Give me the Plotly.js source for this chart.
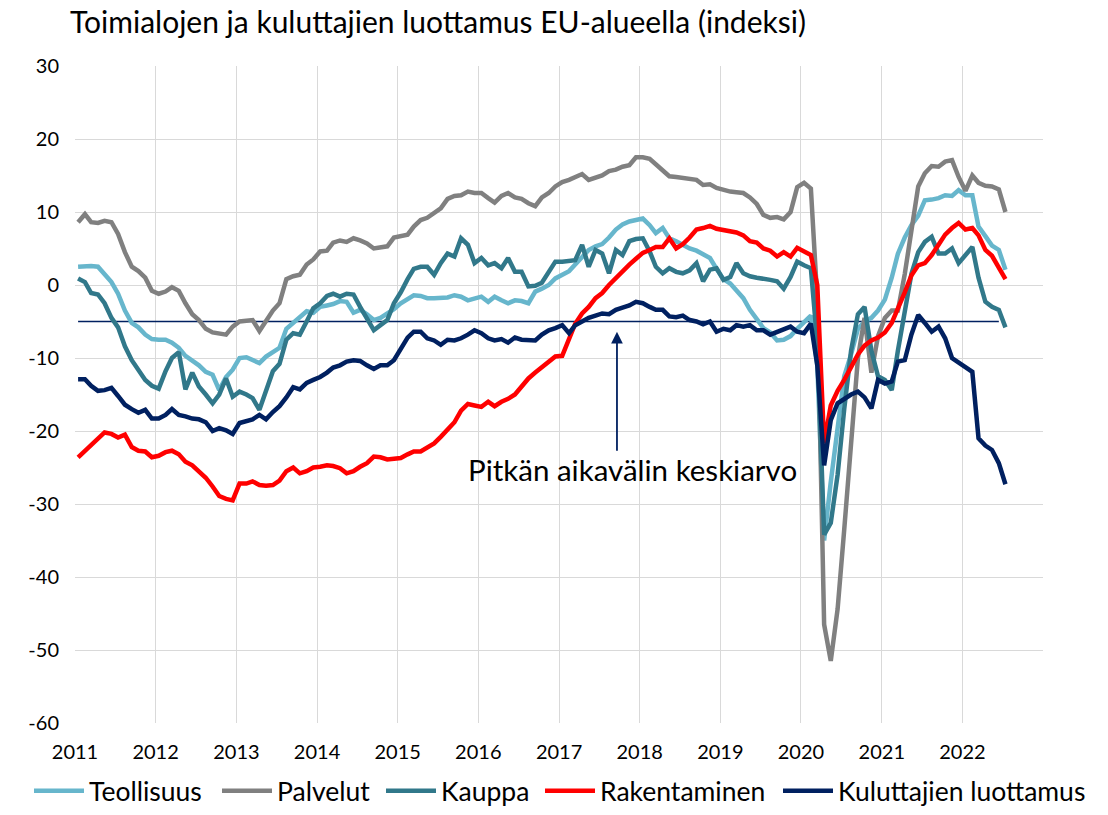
<!DOCTYPE html>
<html>
<head>
<meta charset="utf-8">
<script src="https://cdn.plot.ly/plotly-3.0.1.min.js"></script>
<style>html,body{margin:0;padding:0;background:#fff;}#chart{width:1108px;height:815px;}</style>
</head>
<body>
<div id="chart"></div>
<script>
// ---- Data (monthly, Jan 2011 – Jul 2022) ----
const startYear = 2011;
const nMonths = 139;

const teollisuus = [
  2.5, 2.6, 2.6, 2.5, 1.5, 0.4, -1.2, -3.5, -5.2, -5.8, -6.8, -7.4,
  -7.5, -7.5, -7.9, -8.6, -9.7, -10.3, -11.0, -11.9, -12.3, -14.4, -12.6, -11.6,
  -10.0, -9.9, -10.3, -10.7, -9.8, -9.2, -8.6, -6.0, -5.2, -4.4, -3.6, -3.8,
  -3.0, -2.8, -2.6, -2.2, -2.3, -3.8, -3.4, -4.0, -4.8, -4.5, -3.9, -3.3,
  -2.5, -2.0, -1.4, -1.5, -1.8, -1.8, -1.8, -1.7, -1.4, -1.6, -2.1, -1.8,
  -1.6, -2.3, -1.6, -2.1, -2.5, -2.1, -2.2, -2.5, -0.9, -0.5, 0.0, 0.9,
  1.4, 1.9, 2.8, 3.9, 4.8, 5.3, 5.6, 6.5, 7.6, 8.3, 8.7, 8.9,
  9.1, 8.2, 7.1, 7.8, 6.4, 6.0, 5.5, 5.0, 4.7, 4.2, 3.7, 2.2,
  0.8, 0.2, -0.8, -1.8, -3.4, -4.7, -5.9, -6.5, -7.6, -7.5, -7.0, -6.0,
  -5.0, -4.2, -11.0, -35.0, -27.0, -20.0, -12.5, -9.5, -6.0, -5.0, -4.5, -3.5,
  -2.0, 1.0, 4.3, 6.5, 8.2, 9.5, 11.6, 11.7, 11.9, 12.3, 12.2, 13.0,
  12.3, 12.3, 8.0, 6.7, 5.4, 4.8, 2.1
];

const palvelut = [
  8.6, 9.7, 8.6, 8.5, 8.8, 8.6, 7.0, 4.5, 2.5, 1.9, 1.0, -0.8,
  -1.2, -0.9, -0.3, -0.8, -2.5, -4.0, -4.8, -6.0, -6.5, -6.6, -6.8, -5.7,
  -5.0, -4.9, -4.8, -6.3, -4.8, -3.5, -2.5, 0.8, 1.2, 1.4, 2.8, 3.5,
  4.6, 4.7, 5.8, 6.1, 5.9, 6.4, 6.1, 5.7, 5.0, 5.1, 5.3, 6.5,
  6.7, 6.9, 8.0, 8.9, 9.2, 9.8, 10.5, 11.8, 12.2, 12.3, 12.8, 12.6,
  12.6, 11.9, 11.3, 12.2, 12.6, 12.0, 11.8, 11.2, 10.8, 12.0, 12.6, 13.5,
  14.1, 14.4, 14.8, 15.2, 14.4, 14.7, 15.0, 15.6, 15.8, 16.2, 16.4, 17.5,
  17.5, 17.3, 16.5, 15.8, 14.9, 14.8, 14.7, 14.6, 14.4, 13.7, 13.8, 13.3,
  13.0, 12.8, 12.7, 12.6, 12.0, 11.1, 9.6, 9.2, 9.3, 9.0, 10.0, 13.4,
  14.0, 13.2, -2.0, -46.5, -51.5, -44.4, -33.5, -21.5, -10.0, -4.5, -12.0, -7.0,
  -4.5, -3.5, -3.5, 1.5, 7.5, 13.5, 15.3, 16.3, 16.2, 16.9, 17.1, 14.8,
  12.9, 15.0, 14.0, 13.6, 13.5, 13.1, 10.0
];

const kauppa = [
  0.9, 0.4, -1.1, -1.3, -2.5, -4.5, -5.8, -8.4, -10.3, -11.6, -13.0, -13.8,
  -14.2, -11.8, -10.0, -9.2, -14.3, -12.0, -13.9, -15.0, -16.2, -15.0, -12.8, -15.3,
  -14.6, -15.0, -15.5, -17.1, -14.4, -11.8, -10.8, -7.5, -6.6, -6.8, -5.0, -3.2,
  -2.5, -1.5, -1.2, -1.6, -1.2, -1.3, -3.0, -4.5, -6.2, -5.5, -4.8, -2.5,
  -1.0, 0.8, 2.2, 2.5, 2.5, 1.4, 3.0, 4.3, 3.9, 6.4, 5.5, 3.0,
  3.7, 2.7, 3.0, 2.3, 3.7, 1.8, 1.8, -0.2, -0.1, 0.3, 1.8, 3.2,
  3.2, 3.3, 3.4, 5.5, 2.5, 4.8, 4.3, 1.6, 4.8, 4.1, 6.0, 6.3,
  6.4, 4.6, 2.5, 1.6, 2.3, 1.8, 1.6, 2.0, 3.0, 0.5, 2.1, 2.3,
  0.7, 1.1, 3.0, 1.6, 1.2, 1.0, 0.9, 0.7, 0.5, -0.5, 1.1, 3.2,
  2.7, 2.3, -8.0, -34.2, -32.6, -26.0, -17.0, -9.0, -4.0, -3.0, -9.0, -12.5,
  -13.0, -14.4, -9.0, -4.0, 1.5, 4.5, 5.9, 6.6, 4.3, 4.3, 5.0, 3.0,
  4.1, 5.2, 1.0, -2.3, -3.0, -3.4, -5.8
];

const rakentaminen = [
  -23.6, -22.7, -22.1, -21.2, -20.2, -20.4, -20.9, -20.5, -22.2, -22.7, -22.8, -23.6,
  -23.4, -22.9, -22.7, -23.2, -24.2, -24.7, -25.5, -26.4, -27.6, -28.9, -29.3, -29.5,
  -27.2, -27.2, -26.9, -27.4, -27.5, -27.4, -26.8, -25.5, -25.0, -25.8, -25.5, -25.0,
  -24.9, -24.7, -24.8, -25.1, -25.8, -25.5, -24.9, -24.4, -23.5, -23.6, -23.9, -23.8,
  -23.7, -23.2, -22.8, -22.8, -22.3, -21.7, -20.8, -19.8, -18.8, -17.2, -16.3, -16.5,
  -16.7, -16.0, -16.6, -16.0, -15.6, -15.0, -13.8, -12.8, -12.0, -11.3, -10.6, -9.8,
  -9.7, -7.5, -5.3, -3.9, -3.0, -1.8, -1.1, 0.0, 1.0, 2.0, 2.8, 3.6,
  4.4, 4.8, 5.2, 5.2, 6.4, 5.0, 5.6, 6.5, 7.6, 7.8, 8.1, 7.7,
  7.5, 7.4, 7.2, 6.8, 6.0, 5.8, 5.0, 4.7, 3.9, 4.5, 3.9, 5.1,
  4.6, 4.1, 0.0, -21.7, -16.5, -14.5, -13.0, -11.2, -9.5, -8.3, -7.6, -7.2,
  -6.5, -5.2, -3.3, -1.0, 1.3, 2.7, 3.0, 4.1, 5.5, 6.9, 7.8, 8.5,
  7.6, 7.8, 6.8, 4.8, 4.0, 2.4, 0.8
];

const kuluttajat = [
  -12.9, -12.9, -13.8, -14.5, -14.4, -14.1, -15.2, -16.4, -17.0, -17.5, -17.1, -18.3,
  -18.3, -17.8, -17.0, -17.8, -18.0, -18.3, -18.4, -18.8, -20.0, -19.6, -19.9, -20.4,
  -18.9, -18.7, -18.4, -17.8, -18.4, -17.4, -16.6, -15.4, -14.0, -14.3, -13.4, -13.0,
  -12.6, -12.0, -11.3, -11.0, -10.5, -10.3, -10.4, -11.0, -11.5, -11.0, -11.0, -10.3,
  -8.6, -7.2, -6.4, -6.4, -7.3, -7.6, -8.2, -7.5, -7.6, -7.3, -6.8, -6.2,
  -6.6, -7.3, -7.6, -7.4, -7.9, -7.2, -7.5, -7.6, -7.6, -6.8, -6.2, -5.9,
  -5.5, -6.6, -5.5, -5.0, -4.5, -4.2, -3.9, -4.0, -3.4, -3.1, -2.8, -2.3,
  -2.5, -3.0, -3.4, -3.4, -4.3, -4.4, -4.2, -4.8, -5.0, -5.4, -5.0, -6.4,
  -6.0, -6.2, -5.5, -5.7, -5.5, -6.2, -6.2, -6.8, -6.4, -6.0, -5.7, -6.4,
  -6.6, -5.3, -11.0, -24.7, -18.5, -16.2, -15.6, -15.0, -14.6, -15.4, -16.9, -13.0,
  -13.5, -13.2, -10.5, -10.3, -6.8, -4.1, -5.2, -6.4, -5.7, -7.3, -10.0, -10.6,
  -11.3, -11.9, -21.0, -22.0, -22.6, -24.4, -27.3
];

const longTermAverage = -5;

const seriesNames = ['Teollisuus', 'Palvelut', 'Kauppa', 'Rakentaminen', 'Kuluttajien luottamus'];
const seriesColors = ['#67b6cc', '#808080', '#31788a', '#ff0000', '#002060'];
const seriesValues = [teollisuus, palvelut, kauppa, rakentaminen, kuluttajat];

const yearLabels = ['2011','2012','2013','2014','2015','2016','2017','2018','2019','2020','2021','2022',''];
const yTickValues = [30, 20, 10, 0, -10, -20, -30, -40, -50, -60];
const yTickLabels = ['30','20','10','0','-10','-20','-30','-40','-50','-60'];

const annotationText = 'Pitkän aikavälin keskiarvo';
const titleText = 'Toimialojen ja kuluttajien luottamus EU-alueella (indeksi)';

// month positions (mid-month)
const months = [];
for (let i = 0; i < nMonths; i++) {
  const y = startYear + Math.floor(i / 12);
  const m = (i % 12) + 1;
  months.push(y + '-' + String(m).padStart(2, '0') + '-15');
}
const yearTickVals = yearLabels.map((_, k) => (startYear + k) + '-01-01');

// one legend per series so each entry sits where the reference has it
const legendIds = ['legend', 'legend2', 'legend3', 'legend4', 'legend5'];
const legendLeftPx = [29, 217, 381, 540, 778];

const traces = [];
// long-term average line (drawn first, under the series)
traces.push({
  type: 'scatter', mode: 'lines', name: annotationText, showlegend: false,
  x: [months[0], months[nMonths - 2]], y: [longTermAverage, longTermAverage],
  line: { color: '#002060', width: 1.5 }, hoverinfo: 'skip'
});
seriesNames.forEach((name, k) => {
  traces.push({
    type: 'scatter', mode: 'lines', name: name,
    x: months, y: seriesValues[k],
    line: { color: seriesColors[k], width: 4.5 },
    legend: legendIds[k],
    hoverinfo: 'skip'
  });
});

const layout = {
  width: 1108, height: 815,
  margin: { l: 75, r: 65, t: 66, b: 92, autoexpand: false },
  paper_bgcolor: '#ffffff', plot_bgcolor: '#ffffff',
  font: { family: 'Lato, sans-serif', color: '#000000' },
  title: {
    text: titleText, xref: 'container', yref: 'container',
    x: 70 / 1108, xanchor: 'left', y: 1 - 22 / 815, yanchor: 'middle',
    font: { size: 30, color: '#000000', family: 'Lato, sans-serif' }
  },
  xaxis: {
    type: 'date', range: ['2011-01-01', '2023-01-01'],
    tickmode: 'array', tickvals: yearTickVals, ticktext: yearLabels,
    showgrid: true, gridcolor: '#d9d9d9', gridwidth: 1,
    zeroline: false, showline: false, ticks: '',
    tickfont: { size: 20, color: '#000000' }, ticklabelstandoff: 15,
    automargin: false, fixedrange: true
  },
  yaxis: {
    range: [-60, 30], tickmode: 'array', tickvals: yTickValues, ticktext: yTickLabels,
    showgrid: true, gridcolor: '#d9d9d9', gridwidth: 1,
    zeroline: false, showline: false, ticks: '',
    tickfont: { size: 20, color: '#000000' }, ticklabelstandoff: 15,
    automargin: false, fixedrange: true
  },
  showlegend: true,
  hovermode: false,
  annotations: [
    {
      xref: 'x', yref: 'y', axref: 'x', ayref: 'y',
      x: '2017-09-20', y: -6.4, ax: '2017-09-20', ay: -22.9,
      text: '', showarrow: true, arrowhead: 2, arrowsize: 1.3, arrowwidth: 1.8,
      arrowcolor: '#002060'
    },
    {
      xref: 'x', yref: 'y', x: '2017-11-28', y: -25.3,
      text: annotationText, showarrow: false,
      font: { size: 29.5, color: '#000000' }
    }
  ]
};

legendIds.forEach((id, k) => {
  layout[id] = {
    orientation: 'h',
    xref: 'container', yref: 'container',
    x: legendLeftPx[k] / 1108, xanchor: 'left',
    y: -0.006, yanchor: 'bottom',
    itemwidth: 50,
    font: { size: 26.5, color: '#000000', family: 'Lato, sans-serif' },
    bgcolor: 'rgba(0,0,0,0)', borderwidth: 0
  };
});

Plotly.newPlot('chart', traces, layout, { displayModeBar: false, staticPlot: true });
</script>
</body>
</html>
